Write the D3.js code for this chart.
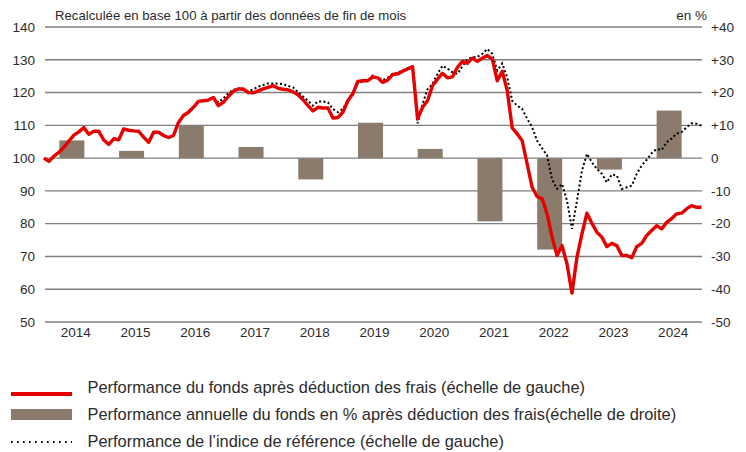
<!DOCTYPE html>
<html><head><meta charset="utf-8">
<script src="https://cdn.jsdelivr.net/npm/d3@7"></script>
<style>
body{margin:0;background:#fff}
svg{display:block}
text{font-family:"Liberation Sans",Arial,sans-serif;fill:#2b2b2b}
</style>
</head><body>
<svg id="c" width="746" height="452"></svg>
<script>
const years = [2014,2015,2016,2017,2018,2019,2020,2021,2022,2023,2024];
const annualPerf = [5.4,2.2,9.9,3.4,-6.5,10.8,2.8,-19.3,-27.9,-3.5,14.5];
const fundIndex = [
100,99.0,100.6,101.8,103.3,105.2,107.0,108.0,109.3,107.3,108.2,108.2,
105.5,104.2,105.9,105.6,108.9,108.5,108.3,108.2,106.4,104.8,107.9,107.9,
106.9,106.3,106.9,110.9,113.0,114.0,115.5,117.3,117.5,117.7,118.5,116.0,
117.0,118.8,120.4,121.1,121.1,120.0,119.9,120.5,121.1,121.6,122.1,121.3,
121.0,120.8,120.2,119.3,117.8,116.0,114.4,115.5,115.3,115.3,112.2,112.4,
114.0,117.5,119.6,123.4,123.6,123.6,124.8,124.5,123.1,123.8,125.5,125.7,
126.5,127.2,127.9,112.0,115.5,117.5,122.1,124.1,125.9,124.5,124.8,127.7,
129.5,128.9,130.5,129.5,130.5,131.3,130.2,123.6,126.5,120.6,109.2,107.4,
105.3,98.2,91.1,88.3,87.6,83.0,75.9,70.3,73.3,67.7,58.8,69.8,
76.9,83.2,80.1,77.4,75.9,73.0,74.0,73.3,70.3,70.3,69.6,73.0,
74.0,76.4,77.9,79.4,78.4,80.4,81.5,83.0,83.2,84.5,85.5,85.0,
85.0];
const benchIndex = [
100,99.0,100.6,101.8,103.3,105.2,107.0,108.0,109.3,107.3,108.2,108.2,
105.5,104.2,105.9,105.6,108.9,108.5,108.3,108.2,106.4,104.8,107.9,107.9,
106.9,106.3,106.9,110.9,113.0,114.0,115.5,117.3,117.5,117.7,118.5,117.0,
118.2,119.8,120.8,121.3,120.8,120.4,121.0,121.8,122.3,122.8,122.8,122.7,
122.6,122.0,121.6,120.1,118.8,117.5,116.0,117.3,117.3,117.0,115.0,114.0,
115.0,117.5,120.1,122.8,123.4,123.6,125.2,124.6,123.8,124.5,125.7,126.0,
126.8,127.5,127.7,110.6,116.5,121.0,122.6,125.7,128.2,127.3,126.2,125.7,
128.0,130.2,130.7,130.9,131.8,133.3,131.8,126.7,128.9,124.6,117.5,116.0,
115.0,112.0,109.4,105.3,103.0,100.8,93.5,90.6,92.1,87.0,78.4,87.0,
96.2,101.3,98.7,96.7,95.2,92.6,95.0,94.7,90.6,91.1,91.6,95.2,
97.7,99.5,101.5,102.8,102.5,104.8,106.0,107.5,107.9,109.4,110.6,110.5,
109.9];
const leftTicks = [50,60,70,80,90,100,110,120,130,140];
const rightTicks = [-50,-40,-30,-20,-10,0,10,20,30,40];
const titleText = "Recalculée en base 100 à partir des données de fin de mois";
const unitText = "en %";
const legendLabels = [
  "Performance du fonds après déduction des frais (échelle de gauche)",
  "Performance annuelle du fonds en % après déduction des frais(échelle de droite)",
  "Performance de l’indice de référence (échelle de gauche)"
];

const svg = d3.select("#c");
const gridX0 = 45, gridX1 = 702;
const yL = d3.scaleLinear().domain([50,140]).range([322,27]);
const yR = d3.scaleLinear().domain([-50,40]).range([322,27]);
const xM = d3.scaleLinear().domain([0,fundIndex.length-1]).range([44,701.5]);
const xB = d3.scaleBand().domain(years).range([42,699]).paddingInner(0);
const barW = 25;
const red = "#e60000", brown = "#8a7b6c", grid = "#7f7f7f";

// gridlines
svg.append("g").selectAll("line").data(leftTicks).join("line")
  .attr("x1",gridX0).attr("x2",gridX1)
  .attr("y1",d=>yL(d)).attr("y2",d=>yL(d))
  .attr("stroke",grid).attr("stroke-width",1.4);

// left axis labels
const gL = svg.append("g").attr("transform","translate(35,0)")
  .call(d3.axisLeft(yL).tickValues(leftTicks).tickSize(0).tickPadding(0));
gL.select(".domain").remove();
gL.selectAll("text").attr("font-size",13.5).style("font-family",null);

// right axis labels
const gR = svg.append("g").attr("transform","translate(711,0)")
  .call(d3.axisRight(yR).tickValues(rightTicks).tickSize(0).tickPadding(0)
    .tickFormat(d=> d>0 ? "+"+d : String(d)));
gR.select(".domain").remove();
gR.selectAll("text").attr("font-size",13.5).style("font-family",null);

// bottom year labels
const gB = svg.append("g").attr("transform","translate(0,323)")
  .call(d3.axisBottom(xB).tickSize(0).tickPadding(0));
gB.select(".domain").remove();
gB.selectAll("text").attr("font-size",13.5).attr("dy","1.05em").attr("dx",4).style("font-family",null);

// bars
svg.append("g").selectAll("rect").data(years.map((y,i)=>({y,v:annualPerf[i]}))).join("rect")
  .attr("x",d=>xB(d.y)+xB.bandwidth()/2-barW/2)
  .attr("width",barW)
  .attr("y",d=>yR(Math.max(0,d.v)))
  .attr("height",d=>Math.abs(yR(d.v)-yR(0)))
  .attr("fill",brown);

// lines
const line = d3.line().x((d,i)=>xM(i)).y(d=>yL(d));
svg.append("path").datum(benchIndex).attr("d",line)
  .attr("fill","none").attr("stroke","#000").attr("stroke-width",2)
  .attr("stroke-dasharray","2,2.4");
svg.append("path").datum(fundIndex).attr("d",line)
  .attr("fill","none").attr("stroke",red).attr("stroke-width",3.4)
  .attr("stroke-linejoin","round");

// title
svg.append("text").attr("x",55).attr("y",20).attr("font-size",13.2).text(titleText);
svg.append("text").attr("x",707).attr("y",20).attr("font-size",13.5).attr("text-anchor","end").text(unitText);

// legend
const lg = svg.append("g");
lg.append("line").attr("x1",11).attr("x2",72).attr("y1",394).attr("y2",394)
  .attr("stroke",red).attr("stroke-width",4);
lg.append("rect").attr("x",11).attr("y",409).attr("width",61).attr("height",11).attr("fill",brown);
lg.append("line").attr("x1",11).attr("x2",72).attr("y1",442).attr("y2",442)
  .attr("stroke","#000").attr("stroke-width",2.2).attr("stroke-dasharray","1.6,4.4");
lg.selectAll("text").data(legendLabels).join("text")
  .attr("x",87.5).attr("y",(d,i)=>392.7+i*27.2)
  .attr("font-size",16.4).text(d=>d);
</script>
</body></html>
